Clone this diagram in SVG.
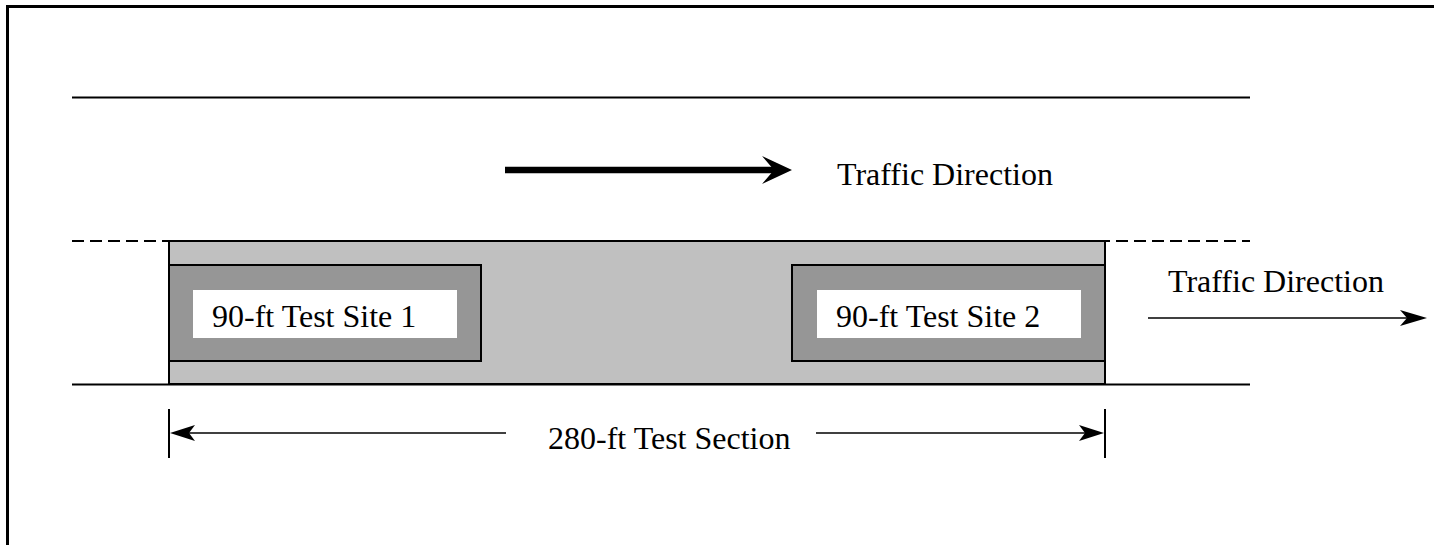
<svg xmlns="http://www.w3.org/2000/svg" width="1434" height="545" viewBox="0 0 1434 545">
<style>
.ln{stroke:#000;stroke-width:2;fill:none}
.thin{stroke:#000;stroke-width:1.6;fill:none}
.lbl{font-family:"Liberation Serif","Times New Roman",serif;font-size:32px;fill:#000}
.head{fill:#000;stroke:none}
</style>
<rect width="1434" height="545" fill="#fff"/>
<g id="frame">
<path d="M7.5 545 V6.5 H1434" stroke="#000" stroke-width="3" fill="none"/>
</g>
<g id="road">
<line class="ln" x1="72" y1="97.5" x2="1250" y2="97.5"/>
<line x1="72" y1="241" x2="1250" y2="241" stroke="#000" stroke-width="2" stroke-dasharray="12 6"/>
</g>
<g id="test-section">
<rect x="169" y="241" width="936" height="143" fill="#c0c0c0" stroke="#000" stroke-width="2"/>
</g>
<g id="road-edge">
<line class="ln" x1="72" y1="384.5" x2="1250" y2="384.5"/>
</g>
<g id="site1">
<rect x="169" y="265" width="312" height="96" fill="#969696" stroke="#000" stroke-width="2"/>
<rect x="193" y="290" width="264" height="48" fill="#fff"/>
<text class="lbl" x="212" y="327">90-ft Test Site 1</text>
</g>
<g id="site2">
<rect x="792" y="265" width="313" height="96" fill="#969696" stroke="#000" stroke-width="2"/>
<rect x="817" y="290" width="264" height="48" fill="#fff"/>
<text class="lbl" x="836" y="327">90-ft Test Site 2</text>
</g>
<g id="connectors">
<line x1="505" y1="170" x2="776" y2="170" stroke="#000" stroke-width="6.5"/>
<path class="head" d="M792 170 L762 156 L774 170 L762 184 Z"/>
<line class="thin" x1="1148" y1="318" x2="1412" y2="318"/>
<path class="head" d="M1427 318 L1400 310 L1407 318 L1400 326 Z"/>
<line class="ln" x1="169" y1="409" x2="169" y2="458"/>
<line class="ln" x1="1105" y1="409" x2="1105" y2="458"/>
<line class="thin" x1="184" y1="433" x2="506" y2="433"/>
<path class="head" d="M170 433 L195 425 L189 433 L195 441 Z"/>
<line class="thin" x1="816" y1="433" x2="1090" y2="433"/>
<path class="head" d="M1104 433 L1079 425 L1085 433 L1079 441 Z"/>
</g>
<g id="labels">
<text class="lbl" x="837" y="185">Traffic Direction</text>
<text class="lbl" x="1168" y="292">Traffic Direction</text>
<text class="lbl" x="548" y="449">280-ft Test Section</text>
</g>
</svg>
